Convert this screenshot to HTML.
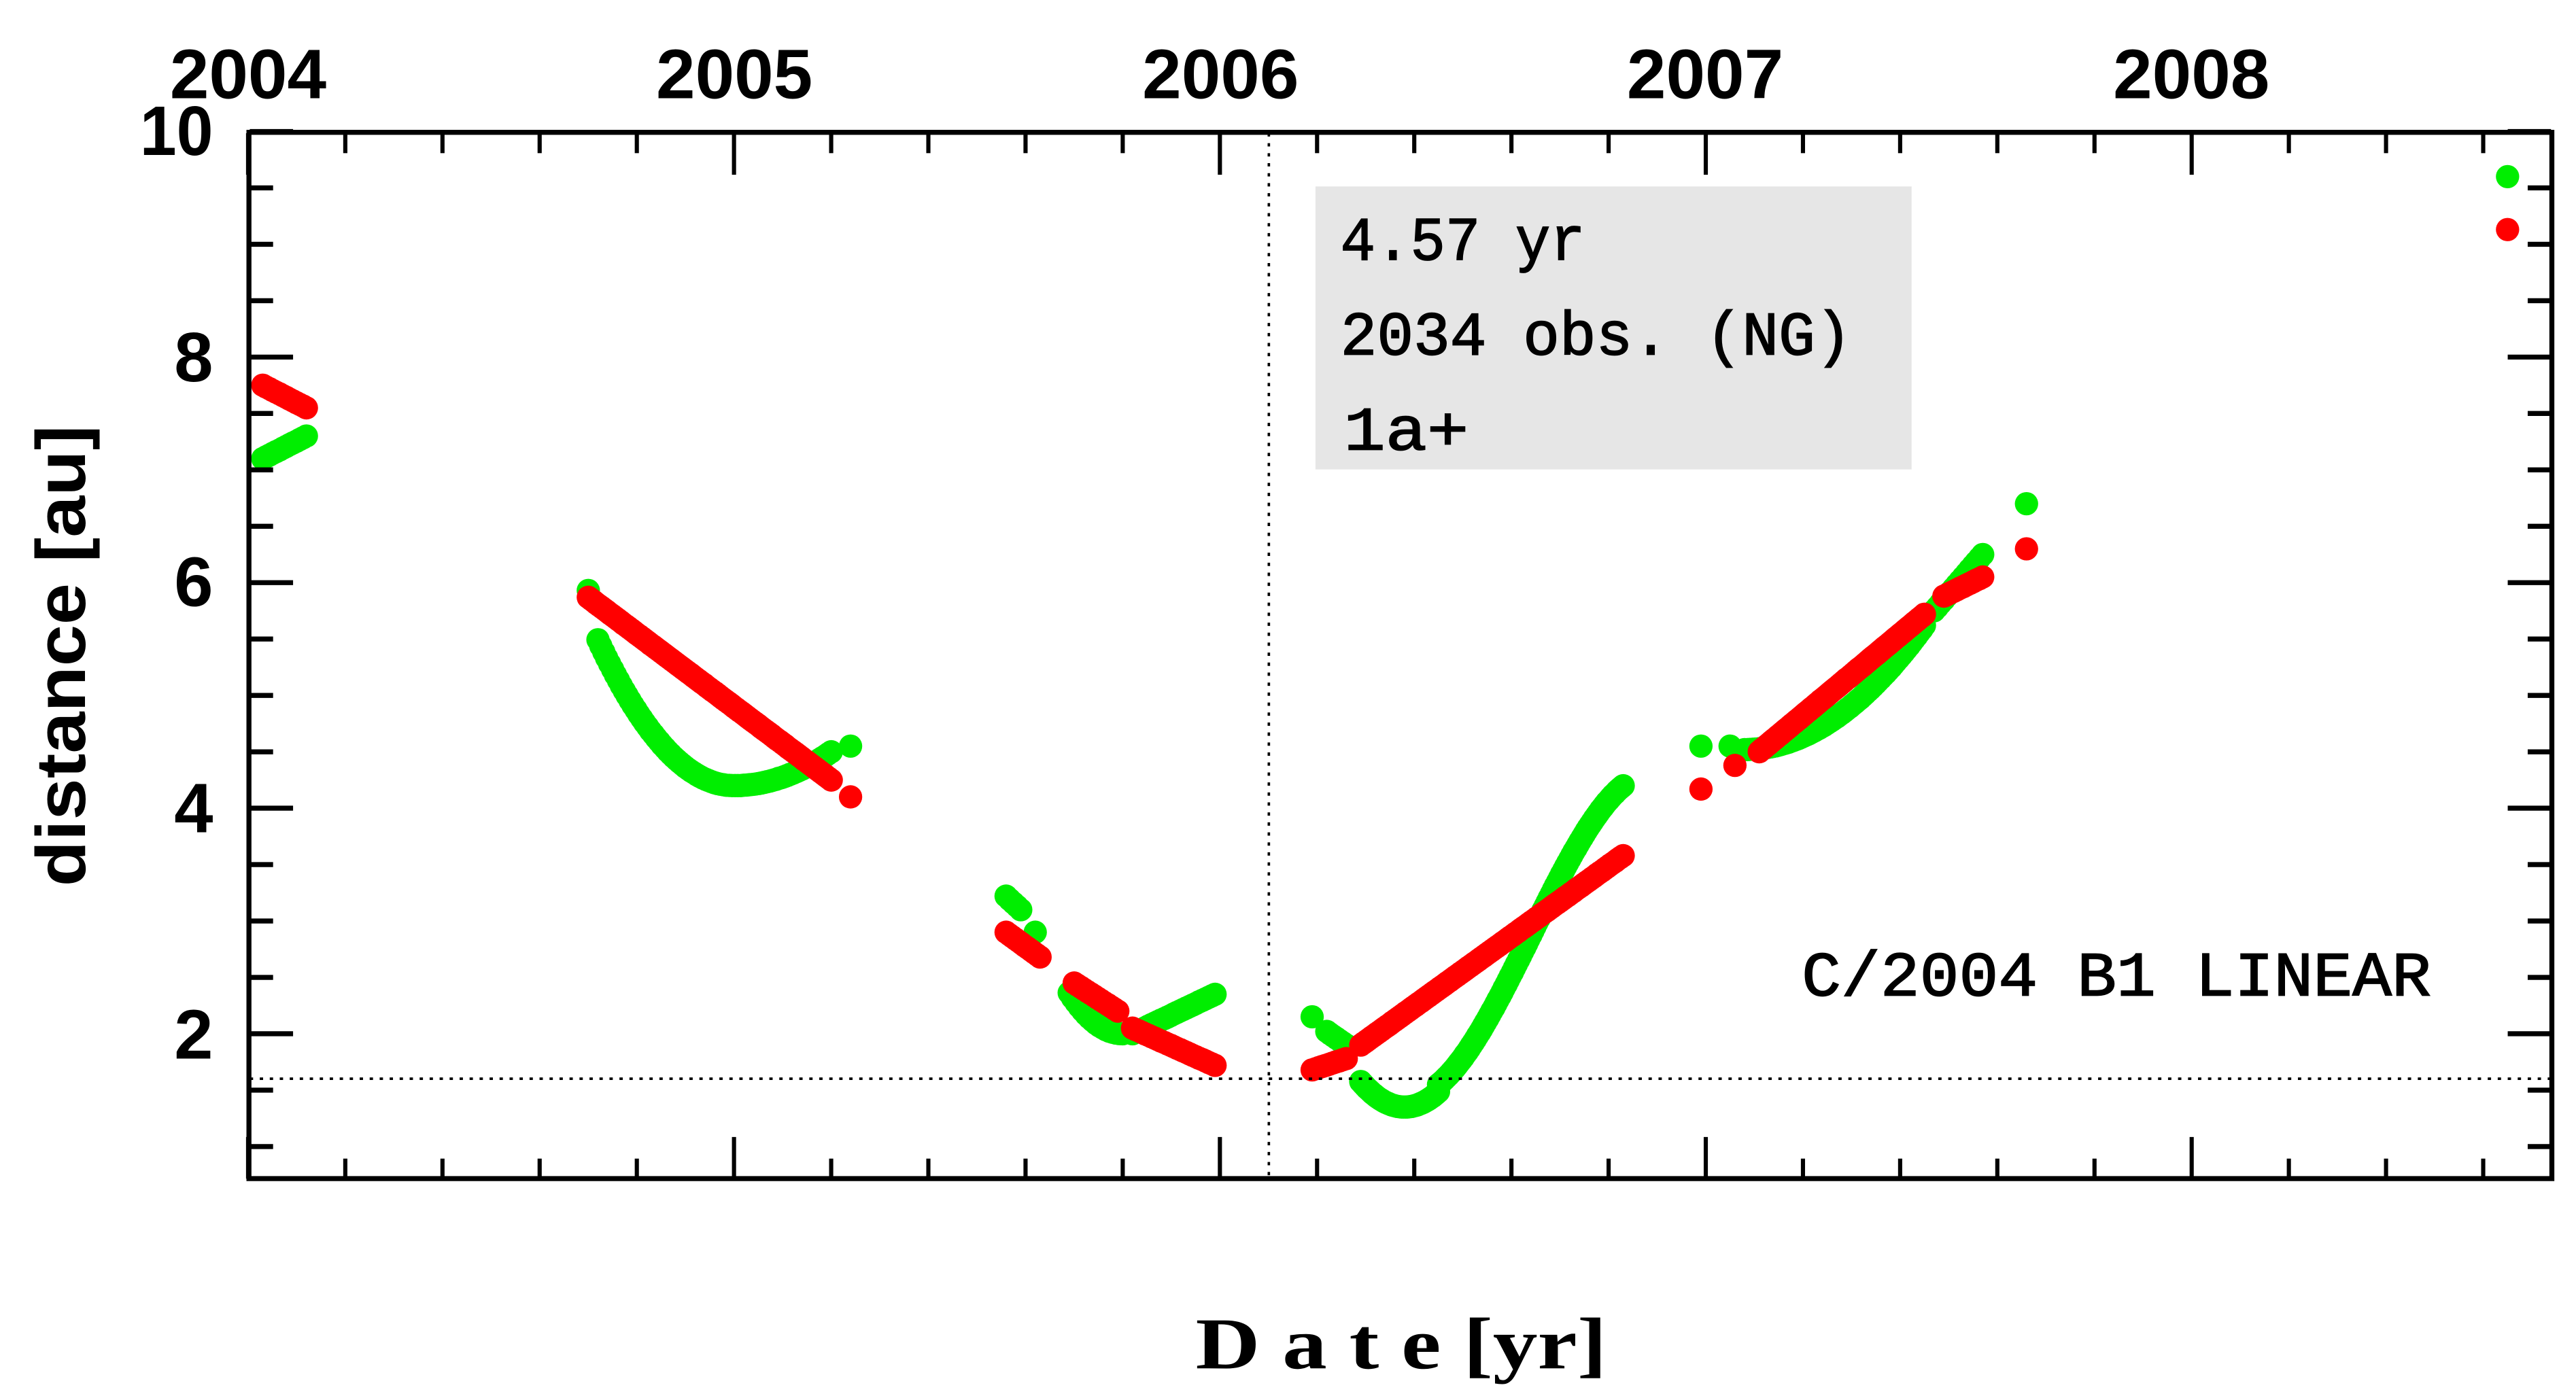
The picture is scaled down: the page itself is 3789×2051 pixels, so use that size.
<!DOCTYPE html>
<html><head><meta charset="utf-8"><style>
html,body{margin:0;padding:0;background:#fff;}
svg{display:block;}
</style></head><body>
<svg id="s" xmlns="http://www.w3.org/2000/svg" width="3789" height="2051" viewBox="0 0 1547 837.4">
<rect x="0" y="0" width="1547" height="837.4" fill="#fff"/>
<rect x="790" y="112" width="358" height="170" fill="#e6e6e6"/>
<g font-family="Liberation Mono, monospace" font-size="37" fill="#000" stroke="#000" stroke-width="0.7">
<text x="805" y="156" textLength="147" lengthAdjust="spacingAndGlyphs">4.57 yr</text>
<text x="805" y="213" textLength="307" lengthAdjust="spacingAndGlyphs">2034 obs. (NG)</text>
<text x="807" y="270" textLength="75" lengthAdjust="spacingAndGlyphs">1a+</text>
<text x="1082" y="598" font-size="38" textLength="378" lengthAdjust="spacingAndGlyphs">C/2004 B1 LINEAR</text>
</g>
<g id="pts"></g>
<g stroke="#000" stroke-width="1.5" stroke-dasharray="2,4" fill="none">
<line x1="762" y1="80" x2="762" y2="708"/>
<line x1="150" y1="648" x2="1532" y2="648"/>
</g>
<g id="ax" stroke="#000" fill="none"></g>
<rect x="149.5" y="79.5" width="1383" height="628.5" fill="none" stroke="#000" stroke-width="3"/>
<g font-family="Liberation Sans, sans-serif" font-weight="bold" font-size="42" fill="#000" text-anchor="middle">
<text x="149" y="59" textLength="94" lengthAdjust="spacingAndGlyphs">2004</text>
<text x="441" y="59" textLength="94" lengthAdjust="spacingAndGlyphs">2005</text>
<text x="733" y="59" textLength="94" lengthAdjust="spacingAndGlyphs">2006</text>
<text x="1024" y="59" textLength="94" lengthAdjust="spacingAndGlyphs">2007</text>
<text x="1316" y="59" textLength="94" lengthAdjust="spacingAndGlyphs">2008</text>
</g>
<g font-family="Liberation Sans, sans-serif" font-weight="bold" font-size="42" fill="#000" text-anchor="end">
<text x="128" y="93" textLength="44" lengthAdjust="spacingAndGlyphs">10</text>
<text x="128" y="229">8</text>
<text x="128" y="364">6</text>
<text x="128" y="500">4</text>
<text x="128" y="636">2</text>
</g>
<text x="718" y="822" font-family="Liberation Serif, serif" font-weight="bold" font-size="44" textLength="247" lengthAdjust="spacingAndGlyphs">D a t e [yr]</text>
<text transform="translate(51,394) rotate(-90)" font-family="Liberation Sans, sans-serif" font-weight="bold" font-size="42" text-anchor="middle" textLength="277" lengthAdjust="spacingAndGlyphs">distance [au]</text>
</svg>
<script>
(function(){
function X(t){return 149+(t-2004)*291.8;}
function Y(v){return 79+(10-v)*67.75;}
var ax=document.getElementById('ax'),s='';
for(var i=0;i<=23;i++){var t=2004+i*0.2;var maj=(i%5==0);var L=maj?25:12;var x=X(t);if(x>1532)break;
s+='<line x1="'+x+'" y1="80" x2="'+x+'" y2="'+(80+L)+'" stroke-width="2.5"/>';
s+='<line x1="'+x+'" y1="708" x2="'+x+'" y2="'+(708-L)+'" stroke-width="2.5"/>';}
for(var v=1;v<=10;v+=0.5){var y=Y(v);var maj=(v%2==0);var L=maj?26:14;
s+='<line x1="150" y1="'+y+'" x2="'+(150+L)+'" y2="'+y+'" stroke-width="3"/>';
s+='<line x1="1532" y1="'+y+'" x2="'+(1532-L)+'" y2="'+y+'" stroke-width="3"/>';}
ax.innerHTML=s;
var g=document.getElementById('pts'),o='';
function dot(t,v,c){o+='<circle cx="'+X(t).toFixed(1)+'" cy="'+Y(v).toFixed(1)+'" r="7" fill="'+c+'"/>';}
function seg(t0,t1,f,c,n){n=n||Math.max(2,Math.round((t1-t0)*150));for(var k=0;k<=n;k++){var t=t0+(t1-t0)*k/n;dot(t,f(t),c);}}
function lin(t0,v0,t1,v1){return function(t){return v0+(v1-v0)*(t-t0)/(t1-t0);};}
var G='#00ee00',R='#ff0000';
seg(2004.03,2004.12,lin(2004.03,7.1,2004.12,7.3),G);
dot(2004.7,5.93,G);
seg(2004.72,2005.2,function(t){var u=(t-2005.0);return u<0?4.2+ (u*u)*16.5 : 4.2+u*u*7.5;},G,80);
dot(2005.24,4.55,G);
seg(2005.56,2005.59,lin(2005.56,3.22,2005.59,3.1),G);
dot(2005.62,2.9,G);
seg(2005.69,2005.8,function(t){var u=t-2005.8;return 2.0+u*u*30;},G);
seg(2005.82,2005.99,lin(2005.82,2.0,2005.99,2.35),G);
dot(2006.19,2.15,G);
seg(2006.22,2006.26,lin(2006.22,2.02,2006.26,1.9),G);
seg(2006.29,2006.45,function(t){var u=t-2006.38;return 1.35+u*u*28;},G,40);
seg(2006.45,2006.83,function(t){var u=(t-2006.45)/0.38;return 1.55+2.65*(3*u*u-2*u*u*u)*0.5+2.65*u*0.5;},G,90);
dot(2006.99,4.55,G);dot(2007.05,4.55,G);
seg(2007.08,2007.45,function(t){var u=(t-2007.08)/0.37;return 4.52+1.1*u*u;},G,70);
seg(2007.47,2007.57,lin(2007.47,5.75,2007.57,6.25),G);
dot(2007.66,6.7,G);dot(2008.65,9.6,G);
seg(2004.03,2004.12,lin(2004.03,7.75,2004.12,7.55),R);
seg(2004.7,2005.2,lin(2004.7,5.87,2005.2,4.25),R,90);
dot(2005.24,4.1,R);
seg(2005.56,2005.63,lin(2005.56,2.9,2005.63,2.68),R);
seg(2005.7,2005.79,lin(2005.7,2.45,2005.79,2.2),R);
seg(2005.82,2005.99,lin(2005.82,2.05,2005.99,1.72),R);
seg(2006.19,2006.26,lin(2006.19,1.68,2006.26,1.78),R);
seg(2006.29,2006.83,lin(2006.29,1.9,2006.83,3.58),R,100);
dot(2006.99,4.17,R);dot(2007.06,4.38,R);
seg(2007.11,2007.45,lin(2007.11,4.5,2007.45,5.72),R,70);
seg(2007.49,2007.57,lin(2007.49,5.88,2007.57,6.05),R);
dot(2007.66,6.3,R);dot(2008.65,9.13,R);
g.innerHTML=o;
})();
</script>
</body></html>
